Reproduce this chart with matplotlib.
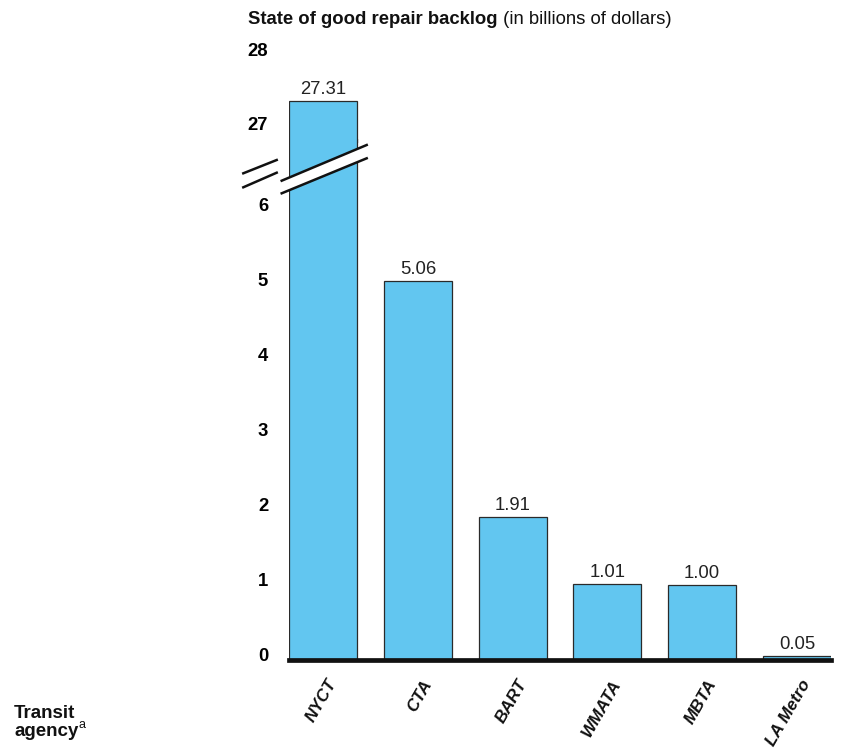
import matplotlib
matplotlib.use("Agg")
import matplotlib.pyplot as plt
from matplotlib.transforms import ScaledTranslation
from matplotlib.patches import Polygon
from matplotlib.lines import Line2D

plt.rcParams['font.family'] = ['Liberation Sans', 'DejaVu Sans']

agencies = ["NYCT", "CTA", "BART", "WMATA", "MBTA", "LA Metro"]
backlog = [27.31, 5.06, 1.91, 1.01, 1.00, 0.05]
value_labels = ["27.31", "5.06", "1.91", "1.01", "1.00", "0.05"]
lower_ticks = [0, 1, 2, 3, 4, 5, 6]
upper_ticks = [27, 28]

BAR_COLOR = "#62C6F0"
FS = 13.3
W, H = 844, 756
fig = plt.figure(figsize=(W / 100, H / 100), dpi=100)

def fx(px):
    return px / W

def fy(py):
    return 1 - py / H

# axes placement (pixels)
left_px, right_px = 289, 831
lo_bottom, lo_top = 660, 138.75
up_bottom, up_top = 142.75, 26.5

ax_lo = fig.add_axes([fx(left_px), fy(lo_bottom), fx(right_px - left_px), (lo_bottom - lo_top) / H])
ax_up = fig.add_axes([fx(left_px), fy(up_bottom), fx(right_px - left_px), (up_bottom - up_top) / H])

x = list(range(len(agencies)))
bw = 0.72
for ax in (ax_lo, ax_up):
    ax.bar(x, backlog, width=bw, color=BAR_COLOR, edgecolor="#2a2a2a", linewidth=0.9, zorder=2)
    ax.set_xlim(-bw / 2, len(agencies) - 1 + bw / 2)
    for s in ("top", "right", "left", "bottom"):
        ax.spines[s].set_visible(False)
    ax.set_xticks([])
    ax.patch.set_alpha(0)

ax_lo.set_ylim(0, 6.95)
ax_up.set_ylim(26.75, 28.3)
ax_lo.set_yticks(lower_ticks)
ax_up.set_yticks(upper_ticks)

off = ScaledTranslation(0, 5.5 / 100, fig.dpi_scale_trans)
for ax in (ax_lo, ax_up):
    ax.tick_params(axis='y', length=0, pad=15, labelsize=FS)
    for lbl in ax.get_yticklabels():
        lbl.set_fontweight('bold')
for lbl in ax_lo.get_yticklabels():
    lbl.set_transform(lbl.get_transform() + off)

# baseline
ax_lo.axhline(0, color="#111111", linewidth=3.4, zorder=3, clip_on=False)

# value labels
for i, (v, t) in enumerate(zip(backlog, value_labels)):
    ax = ax_up if v > 20 else ax_lo
    ax.annotate(t, xy=(i, v), xytext=(0, 2), textcoords="offset points",
                ha="center", va="bottom", fontsize=FS, color="#222222")

# category labels
for i, name in enumerate(agencies):
    ax_lo.annotate(name, xy=(i, 0), xytext=(7.5, -15), textcoords="offset points",
                   ha="right", va="center", rotation=60, rotation_mode="anchor",
                   fontsize=12.3, fontweight="bold", fontstyle="italic", color="#111111",
                   annotation_clip=False)

# break marks (decorative)
band = Polygon([(fx(281.7), fy(180.7)), (fx(366.7), fy(145)), (fx(366.7), fy(158.3)), (fx(281.7), fy(193.3))],
               closed=True, transform=fig.transFigure, facecolor="white", edgecolor="none", zorder=5)
fig.add_artist(band)
for (x0, y0, x1, y1) in [(281.7, 180.7, 366.7, 145), (281.7, 193.3, 366.7, 158.3),
                         (243.3, 173.3, 276.7, 160), (243.3, 187.3, 276.7, 172.7)]:
    fig.add_artist(Line2D([fx(x0), fx(x1)], [fy(y0), fy(y1)], transform=fig.transFigure,
                          color="#111111", linewidth=1.8, zorder=6))

# title
t1 = fig.text(fx(248), fy(19), "State of good repair backlog", fontsize=FS, fontweight="bold",
              va="center", ha="left", color="#111111")
ax_lo.annotate(" (in billions of dollars)", xy=(1, 0), xycoords=t1, va="bottom", ha="left",
               fontsize=FS, color="#111111", annotation_clip=False)

# axis label bottom-left
fig.text(fx(14), fy(713), "Transit", fontsize=13.5, fontweight="bold", va="center", ha="left",
         color="#111111")
t3 = fig.text(fx(14), fy(732), "agency", fontsize=13.5, fontweight="bold", va="center", ha="left",
              color="#111111")
ax_lo.annotate("a", xy=(1, 0.55), xycoords=t3, va="bottom", ha="left", fontsize=9,
               color="#111111", annotation_clip=False)

fig.savefig("out.png", dpi=100)
